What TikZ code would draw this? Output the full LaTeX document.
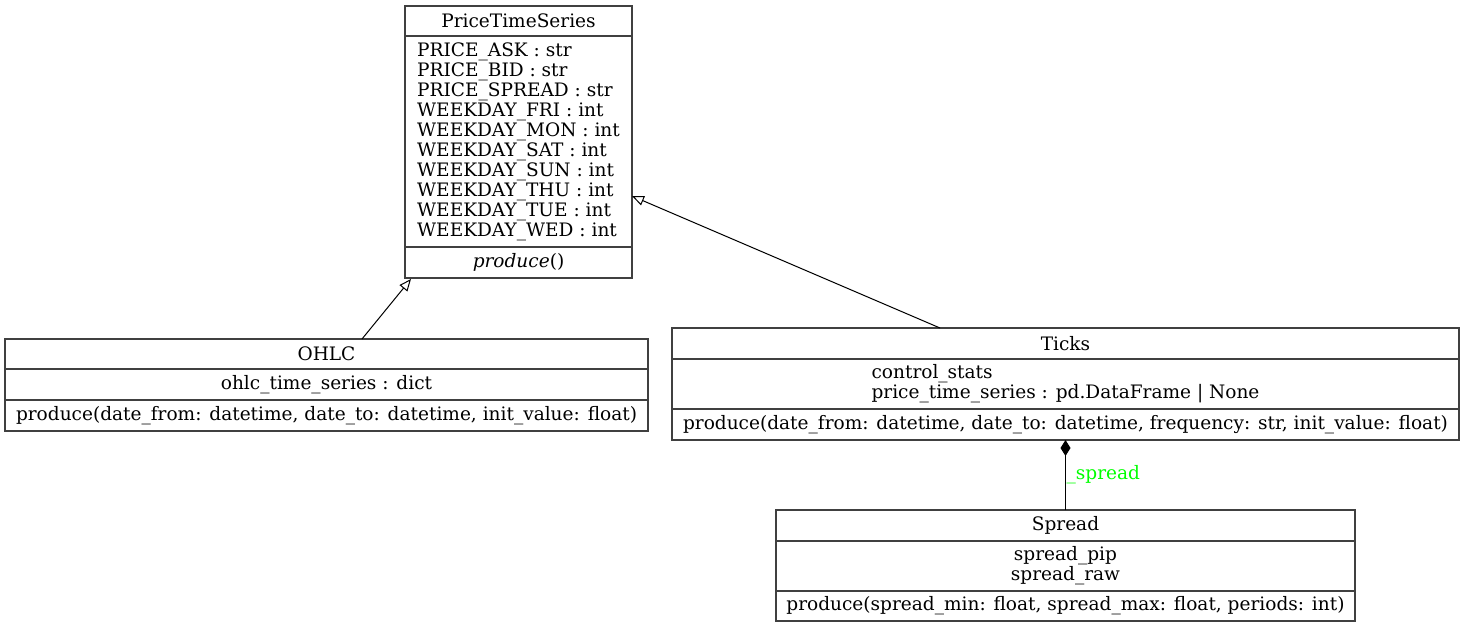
\documentclass[tikz,border=0pt]{standalone}
\usepackage{fontspec}
\setmainfont{DejaVu Serif}
\usetikzlibrary{arrows.meta,positioning}

\newdimen\px \px=0.75pt

\begin{document}
\begin{tikzpicture}[x=1\px, y=-1\px, >=Stealth,
    part/.style={draw=black!75, line width=0.9pt, rectangle, inner sep=0pt, outer sep=0pt,
        font=\fontsize{13.9}{15}\selectfont},
    first/.style={part, anchor=north west},
    inherit/.style={-{Triangle[open, length=9pt, width=7.5pt]}, line width=0.75pt},
    owns/.style={-{Diamond[length=12pt, width=7.5pt]}, line width=0.75pt}]
    \useasboundingbox (0,0) rectangle (1464,628);
    % PriceTimeSeries
    \node [first, minimum width=227\px, minimum height=30\px] (ptsTitle) at (405,6) {PriceTimeSeries};
    \node [part, below=0pt of ptsTitle, minimum width=227\px, minimum height=211\px, align=left] (ptsAttr)
        {PRICE\_ASK : str\\PRICE\_BID : str\\PRICE\_SPREAD : str\\WEEKDAY\_FRI : int\\WEEKDAY\_MON : int\\
         WEEKDAY\_SAT : int\\WEEKDAY\_SUN : int\\WEEKDAY\_THU : int\\WEEKDAY\_TUE : int\\WEEKDAY\_WED : int};
    \node [part, below=0pt of ptsAttr, minimum width=227\px, minimum height=31\px] (ptsMeth) {\textit{produce}()};
    % OHLC
    \node [first, minimum width=643\px, minimum height=30\px] (ohlcTitle) at (5,339) {OHLC};
    \node [part, below=0pt of ohlcTitle, minimum width=643\px, minimum height=31\px] (ohlcAttr) {ohlc\_time\_series : dict};
    \node [part, below=0pt of ohlcAttr, minimum width=643\px, minimum height=31\px] (ohlcMeth)
        {produce(date\_from: datetime, date\_to: datetime, init\_value: float)};
    % Ticks
    \node [first, minimum width=787\px, minimum height=31\px] (ticksTitle) at (672,328) {Ticks};
    \node [part, below=0pt of ticksTitle, minimum width=787\px, minimum height=50\px, align=left] (ticksAttr)
        {control\_stats\\price\_time\_series : pd.DataFrame | None};
    \node [part, below=0pt of ticksAttr, minimum width=787\px, minimum height=31\px] (ticksMeth)
        {produce(date\_from: datetime, date\_to: datetime, frequency: str, init\_value: float)};
    % Spread
    \node [first, minimum width=579\px, minimum height=31\px] (spreadTitle) at (776,510) {Spread};
    \node [part, below=0pt of spreadTitle, minimum width=579\px, minimum height=50\px, align=center] (spreadAttr)
        {spread\_pip\\spread\_raw};
    \node [part, below=0pt of spreadAttr, minimum width=579\px, minimum height=30\px] (spreadMeth)
        {produce(spread\_min: float, spread\_max: float, periods: int)};
    % Inheritance
    \draw [inherit] ([xshift=35.5\px]ohlcTitle.north) -- ([xshift=-107.5\px, yshift=-1\px]ptsMeth.south);
    \draw [inherit] ([xshift=-125.5\px]ticksTitle.north) -- ([yshift=-54.5\px]ptsAttr.east);
    % Composition
    \draw [owns] (spreadTitle.north) -- (ticksMeth.south)
        node[midway, right, inner sep=0.5pt, text={rgb,255:red,0;green,255;blue,0}, font=\fontsize{13.9}{15}\selectfont] {\_spread};
\end{tikzpicture}
\end{document}
